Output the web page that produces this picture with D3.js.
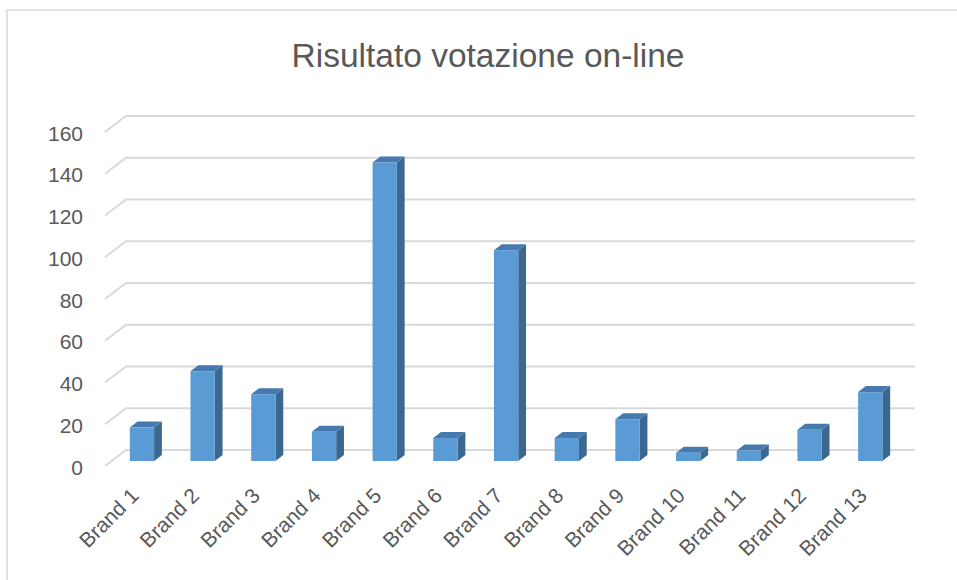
<!DOCTYPE html>
<html>
<head>
<meta charset="utf-8">
<script src="https://cdn.jsdelivr.net/npm/d3@7"></script>
<style>
  body { margin: 0; background: #fff; }
  text { font-family: "Liberation Sans", Arial, sans-serif; fill: #595959; }
</style>
</head>
<body>
<div id="chart"></div>
<script>
var brands = ["Brand 1", "Brand 2", "Brand 3", "Brand 4", "Brand 5", "Brand 6", "Brand 7",
              "Brand 8", "Brand 9", "Brand 10", "Brand 11", "Brand 12", "Brand 13"];
var votes = [16, 43, 32, 14, 143, 11, 101, 11, 20, 4, 5, 15, 33];
var yTicks = [0, 20, 40, 60, 80, 100, 120, 140, 160];
var title = "Risultato votazione on-line";

var width = 957, height = 580;

// back wall of the 3d plot
var x = d3.scaleBand()
  .domain(brands)
  .range([126, 915])
  .paddingInner(0.6)
  .paddingOuter(0.3);

var y = d3.scaleLinear()
  .domain([0, 160])
  .range([450, 116]);

// depth offsets (from back wall towards the viewer)
var wall = {dx: -21, dy: 16};
var barFront = {dx: -14.4, dy: 11};
var barBack = {dx: -6.6, dy: 5};
var side = {dx: barBack.dx - barFront.dx, dy: barBack.dy - barFront.dy};

var svg = d3.select("#chart")
  .append("svg")
  .attr("width", width)
  .attr("height", height);

// outer chart border
svg.append("rect")
  .attr("x", 7)
  .attr("y", 10)
  .attr("width", 1000)
  .attr("height", 700)
  .attr("fill", "none")
  .attr("stroke", "#d9d9d9")
  .attr("stroke-width", 1.5);

svg.append("text")
  .attr("x", 488)
  .attr("y", 67)
  .attr("text-anchor", "middle")
  .style("font-size", "33.5px")
  .text(title);

// gridlines: diagonal on side wall + horizontal on back wall
var grid = svg.append("g").attr("class", "grid");
grid.selectAll("path")
  .data(yTicks)
  .enter().append("path")
  .attr("fill", "none")
  .attr("stroke", "#d9d9d9")
  .attr("stroke-width", 2)
  .attr("d", function(d) {
    var yy = y(d);
    return "M" + (x.range()[0] + wall.dx) + "," + (yy + wall.dy) +
           "L" + x.range()[0] + "," + yy +
           "L" + x.range()[1] + "," + yy;
  });

// y labels
svg.append("g")
  .selectAll("text")
  .data(yTicks)
  .enter().append("text")
  .attr("x", 83)
  .attr("y", function(d) { return y(d) + wall.dy + 1; })
  .attr("text-anchor", "end")
  .attr("dominant-baseline", "central")
  .style("font-size", "21px")
  .text(function(d) { return d; });

// bars
var bw = x.bandwidth();
var bars = svg.append("g")
  .selectAll("g")
  .data(brands)
  .enter().append("g")
  .attr("class", "bar");

function geom(d, i) {
  var x0 = x(d) + barFront.dx;
  return {x0: x0, x1: x0 + bw, yt: y(votes[i]) + barFront.dy, yb: y(0) + barFront.dy};
}

bars.append("path")
  .attr("fill", "#3b6891")
  .attr("d", function(d, i) {
    var g = geom(d, i);
    return "M" + g.x1 + "," + g.yt + "L" + (g.x1 + side.dx) + "," + (g.yt + side.dy) +
           "L" + (g.x1 + side.dx) + "," + (g.yb + side.dy) + "L" + g.x1 + "," + g.yb + "Z";
  });

bars.append("path")
  .attr("fill", "#4679ad")
  .attr("d", function(d, i) {
    var g = geom(d, i);
    return "M" + g.x0 + "," + g.yt + "L" + g.x1 + "," + g.yt +
           "L" + (g.x1 + side.dx) + "," + (g.yt + side.dy) +
           "L" + (g.x0 + side.dx) + "," + (g.yt + side.dy) + "Z";
  });

bars.append("rect")
  .attr("fill", "#5b9bd5")
  .attr("x", function(d, i) { return geom(d, i).x0; })
  .attr("y", function(d, i) { return geom(d, i).yt; })
  .attr("width", bw)
  .attr("height", function(d, i) { var g = geom(d, i); return g.yb - g.yt; });

// x labels, rotated
svg.append("g")
  .selectAll("text")
  .data(brands)
  .enter().append("text")
  .attr("text-anchor", "end")
  .style("font-size", "21px")
  .attr("transform", function(d) {
    var cx = x(d) + barFront.dx + bw / 2 - 2;
    return "translate(" + cx + ",497) rotate(-45)";
  })
  .text(function(d) { return d; });
</script>
</body>
</html>
